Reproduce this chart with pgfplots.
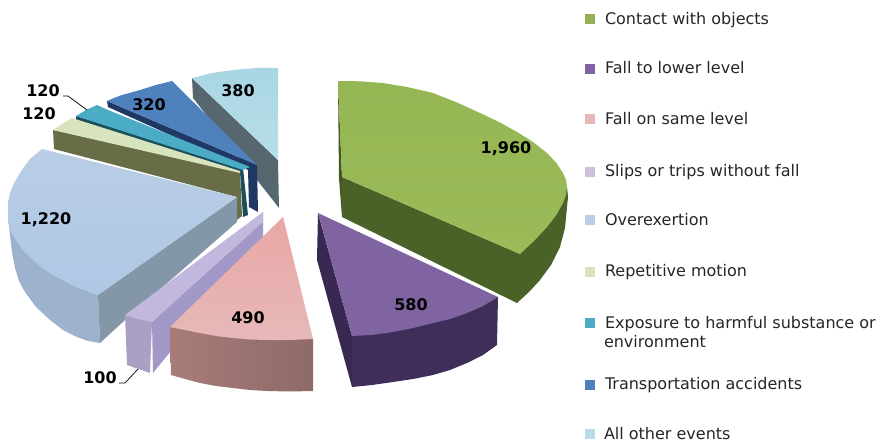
\documentclass[border=0pt]{standalone}
\usepackage{pgfplots}
\pgfplotsset{compat=1.18}
\usepackage{fontspec}
\setmainfont{DejaVu Sans}
\definecolor{gT}{HTML}{9BBB59}\definecolor{gS}{HTML}{4A6128}\definecolor{gA}{HTML}{94B653}
\definecolor{pT}{HTML}{8064A2}\definecolor{pS}{HTML}{3F2D5A}
\definecolor{rT}{HTML}{E6B9B8}\definecolor{rS}{HTML}{9C7270}\definecolor{rA}{HTML}{A87C78}\definecolor{rB}{HTML}{8E6A68}
\definecolor{sT}{HTML}{CCC1DA}\definecolor{sS}{HTML}{A9A0C4}
\definecolor{oT}{HTML}{B9CDE5}\definecolor{oA}{HTML}{AFC8E4}\definecolor{oS}{HTML}{9DB2CC}\definecolor{oR}{HTML}{8397A8}
\definecolor{mT}{HTML}{D7E4BD}\definecolor{mS}{HTML}{686D48}
\definecolor{eT}{HTML}{4BACC6}\definecolor{eS}{HTML}{1B4F5E}
\definecolor{tT}{HTML}{4F81BD}\definecolor{tS}{HTML}{1F3864}
\definecolor{aT}{HTML}{B7DEE8}\definecolor{aA}{HTML}{A9D6E4}\definecolor{aS}{HTML}{57676F}
\newcommand\rh[1]{\rule{0pt}{#1pt}}
\tikzset{valtxt/.style={font=\fontsize{16}{19}\selectfont\bfseries,text=black,inner sep=0pt}}
\begin{document}
\begin{tikzpicture}
\useasboundingbox (0,0) rectangle (878pt,444pt);
\begin{axis}[
  at={(0,0)},anchor=south west,
  width=878pt,height=444pt,scale only axis,
  xmin=0,xmax=878,ymin=0,ymax=444,y dir=reverse,
  axis lines=none,clip=false,
  legend style={at={(axis cs:585,12)},anchor=north west,draw=none,fill=none,
    font=\fontsize{16}{19}\selectfont\color{black!85},
    row sep=0pt,inner sep=0pt,outer sep=0pt,
    cells={anchor=base west},
    nodes={inner sep=0pt,outer sep=0pt}},
  legend image code/.code={\fill[#1] (0pt,0pt) rectangle (10pt,10pt);\path (20pt,0pt);},
  every axis plot/.append style={forget plot,draw=none},
]
\addlegendimage{fill=gT!95!black}\addlegendentry{Contact with objects}
\addlegendimage{fill=pT}\addlegendentry{\rh{48}Fall to lower level}
\addlegendimage{fill=rT}\addlegendentry{\rh{49}Fall on same level}
\addlegendimage{fill=sT}\addlegendentry{\rh{51}Slips or trips without fall}
\addlegendimage{fill=oT}\addlegendentry{\rh{47}Overexertion}
\addlegendimage{fill=mT}\addlegendentry{\rh{50}Repetitive motion}
\addlegendimage{fill=eT}\addlegendentry{\rh{50}\begin{tabular}[t]{@{}l@{}}Exposure to harmful substance or\\\hspace{-1pt}environment\end{tabular}}
\addlegendimage{fill=tT}\addlegendentry{\rh{60}Transportation accidents}
\addlegendimage{fill=aT}\addlegendentry{\rh{48}\hspace{-1pt}All other events}

% All other events (380)
\addplot[fill=aS] coordinates {(192,78)(278,160)(279,208)(193,98)} -- cycle;
\addplot[top color=aA,bottom color=aT] coordinates {(192,78)(202,75.5)(212,73)(222,71.5)(233,70)(244,69)(256,68)(267,68)(278,68)(278,160)} -- cycle;
% Transportation (320)
\addplot[fill=tS] coordinates {(107,101)(257,165)(258,212)(249,207)(248,170)(108,107)} -- cycle;
\addplot[fill=tT] coordinates {(107,101)(114,98)(122,95)(131,92.5)(140,90)(148,87.5)(156,85)(164,83)(172,81)(257,165)} -- cycle;
% Exposure (120)
\addplot[fill=eS] coordinates {(76,116)(243,168)(248,215)(243,217)(240,172)(76,120)} -- cycle;
\addplot[fill=eT] coordinates {(76,116)(86,110)(97,105)(108,110)(250,167)(243,170)} -- cycle;
% Repetitive (120)
\addplot[fill=mS] coordinates {(53,130)(240,172)(242,216)(237,220)(237,197)(54,149)} -- cycle;
\addplot[fill=mT] coordinates {(53,130)(62,124)(72,118)(240,171)(240,173)} -- cycle;
% Overexertion (1,220)
\addplot[fill=oS] coordinates {(8,210)(8.5,222)(10,235)(12,252)(15,268)(19,281)(25,292)(36,307)(50,320)(63,330)(77,337)(88,341)(100,343)(98,295)(72,285)(50,273)(23,250)(10,230)} -- cycle;
\addplot[fill=oR] coordinates {(98,295)(237,197)(237,222)(125,320)(100,343)} -- cycle;
\addplot[top color=oT,bottom color=oA] coordinates {(42,149)(237,197)(98,295)(85,290)(72,285)(61,279)(50,273)(42,268)(35,262)(29,256)(23,250)(16,240)(10,230)(8,220)(8,210)(8.5,201)(10,193)(14,183)(20,173)(25,165.5)(30,159)(36,154)} -- cycle;
% Slips (100)
\addplot[fill=sS!95!blue] coordinates {(152,322)(263,212)(263,238)(153,373)} -- cycle;
\addplot[fill=sS] coordinates {(125,315)(152,322)(150,373)(127,365)} -- cycle;
\addplot[fill=sT!95!blue] coordinates {(263,212)(125,315)(138,319)(152,322)(263,222)} -- cycle;
% Fall on same level (490)
\addplot[left color=rA,right color=rB] coordinates {(170,327)(313,339)(313,391)(290,391.5)(267,391)(250,390)(233,388)(216,386)(200,383)(185,379)(171,375)} -- cycle;
\addplot[top color=rT!90!red,bottom color=rT] coordinates {(283,217)(313,339)(290,340)(267,340)(250,339.5)(233,338)(216,336)(200,333)(185,330)(170,327)} -- cycle;
% Fall to lower level (580)
\addplot[fill=pS!90!black] coordinates {(318,213)(352,336)(352,387)(317,260)} -- cycle;
\addplot[fill=pS] coordinates {(352,336)(498,297)(497,345)(483,355)(467,363)(450,370)(433,375)(413,379)(393,382)(372,385)(352,387)} -- cycle;
\addplot[fill=pT] coordinates {(318,213)(498,297)(483,306)(467,313)(450,319)(433,323)(413,328)(393,332)(372,335)(352,336)} -- cycle;
% Contact with objects (1,960)
\addplot[fill=gS!90!black] coordinates {(338,81)(342,177)(342,217)(339,178)} -- cycle;
\addplot[fill=gS] coordinates {(342,177)(520,254)(567,187)(568,197)(567,207)(565,228)(560,247)(551,265)(540,280)(529,292)(517,303)(342,217)} -- cycle;
\addplot[top color=gA,bottom color=gT] coordinates {(338,81)(360,81.3)(383,83)(408,87.2)(433,93)(457,102.5)(480,113)(499,122)(517,132)(533,142)(547,153)(556,162.5)(563,173)(566,180)(567,187)(566,195)(563,203)(556,215.5)(547,227)(534,241)(520,254)(342,177)} -- cycle;
% Leader lines
\addplot[draw=black,line width=0.7pt] coordinates {(63,96)(68,96)(87,110)};
\addplot[draw=black,line width=0.7pt] coordinates {(119,383)(125,383)(138,369)};

\node[valtxt] at (axis cs:506,149) {1,960};
\node[valtxt] at (axis cs:411,305) {580};
\node[valtxt] at (axis cs:248,318) {490};
\node[valtxt] at (axis cs:100,378) {100};
\node[valtxt] at (axis cs:46,220) {1,220};
\node[valtxt] at (axis cs:43,91) {120};
\node[valtxt] at (axis cs:39,114) {120};
\node[valtxt] at (axis cs:149,105) {320};
\node[valtxt] at (axis cs:238,91) {380};
\end{axis}
\end{tikzpicture}
\end{document}
